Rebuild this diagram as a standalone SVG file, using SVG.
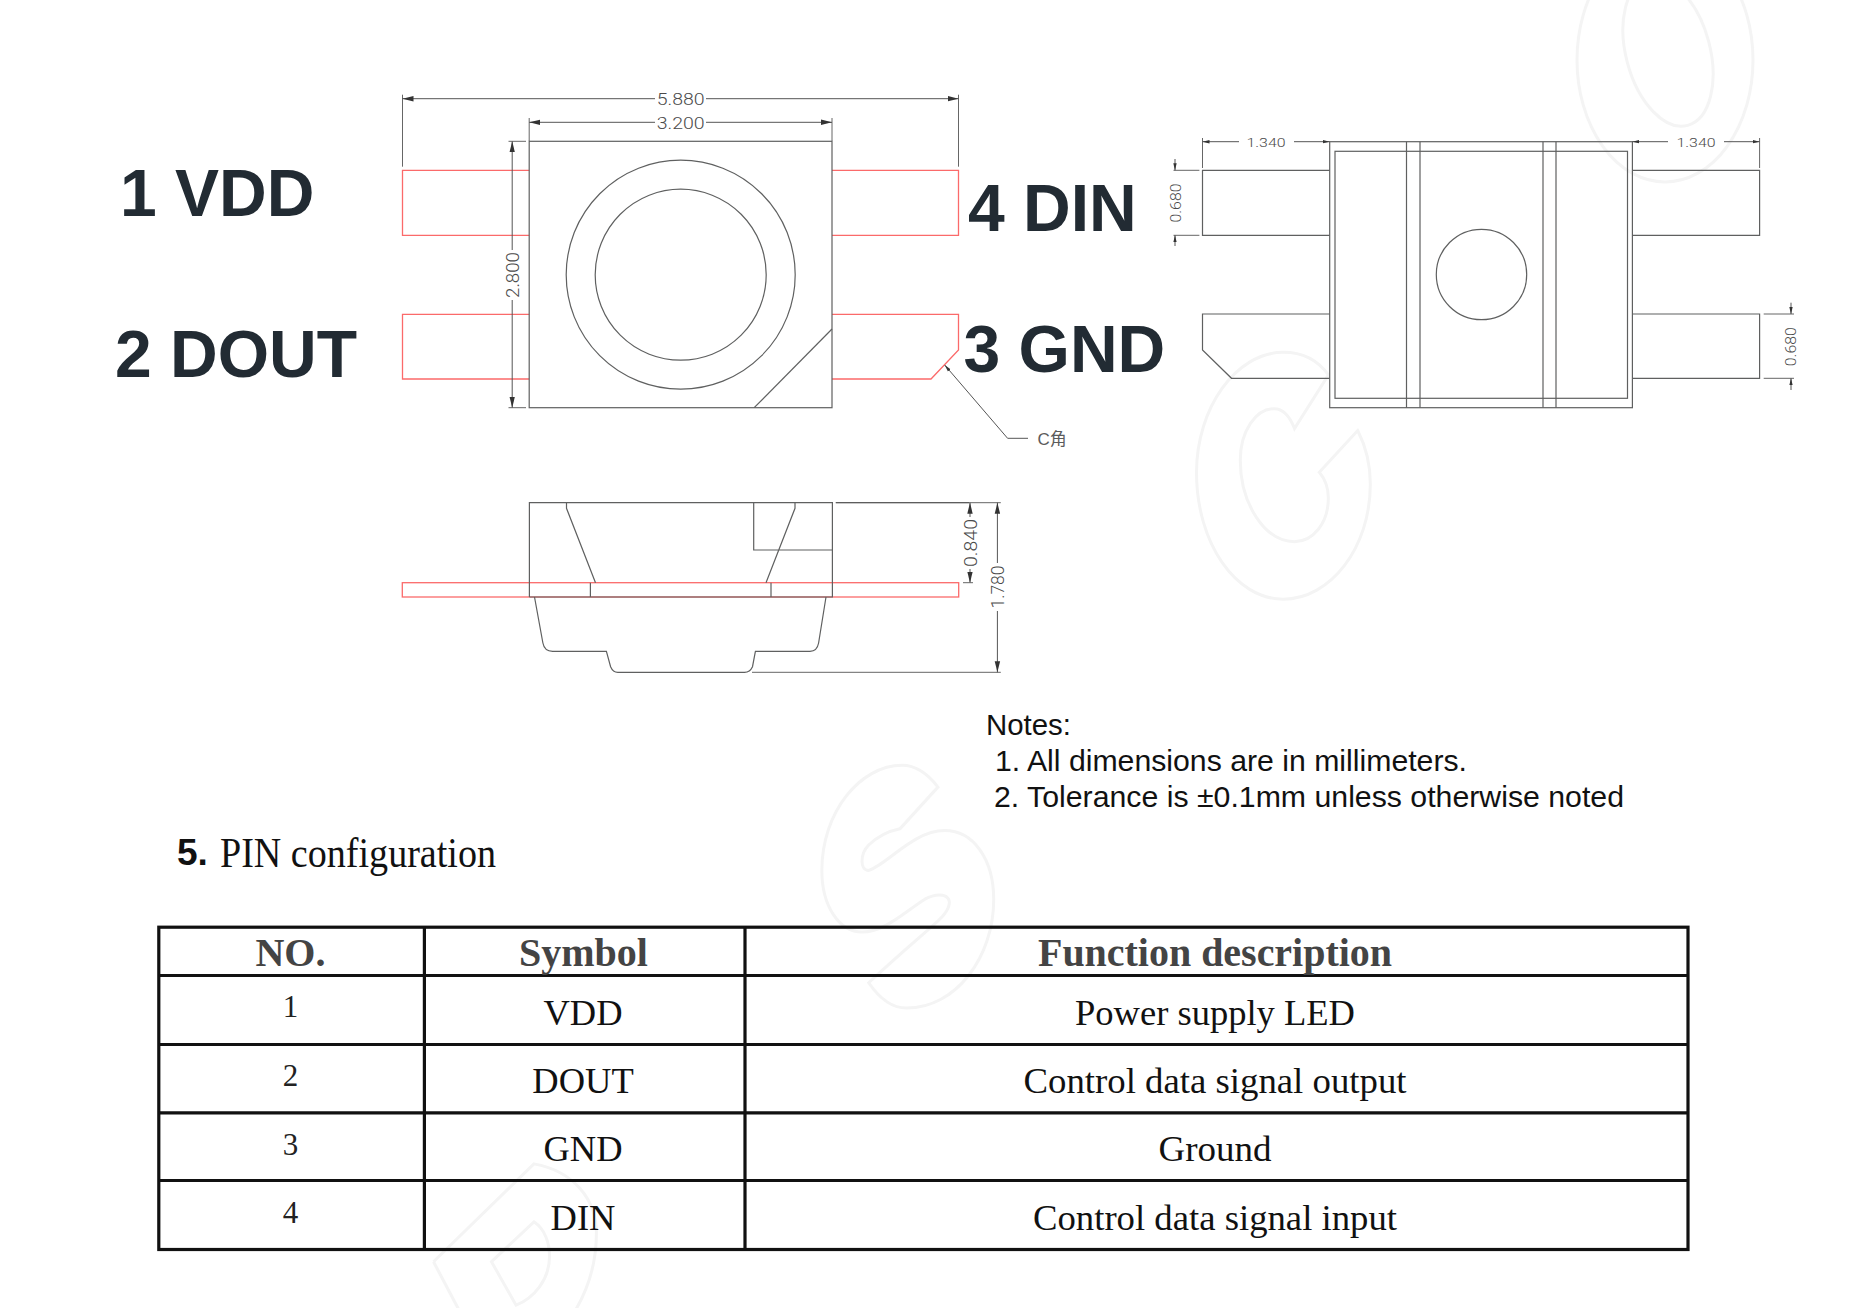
<svg xmlns="http://www.w3.org/2000/svg" width="1858" height="1308" viewBox="0 0 1858 1308">
<style>
.wm{fill:none;stroke:#f4f4f4;stroke-width:3;vector-effect:non-scaling-stroke}
.o{fill:none;stroke:#5f6060;stroke-width:1.2}
.t{fill:none;stroke:#555;stroke-width:1}
.r{fill:none;stroke:#fb6a6a;stroke-width:1.3}
.d{fill:none;stroke:#666;stroke-width:1}
.a{marker-start:url(#ah)}
.s{marker-start:url(#as)}
.dt{font-family:Roboto,"Liberation Sans",Arial,sans-serif;font-weight:300;fill:#4a4a4a;text-anchor:middle}
.big{font-family:"Liberation Sans",Arial,sans-serif;font-weight:700;font-size:66px;fill:#222b33}
.note{font-family:"Liberation Sans",Arial,sans-serif;font-size:30px;fill:#111}
.h{font-family:"Liberation Serif","Times New Roman",serif;font-weight:700;font-size:40px;fill:#444;text-anchor:middle}
.c{font-family:"Liberation Serif","Times New Roman",serif;font-size:36.5px;fill:#111;text-anchor:middle}
.n{font-family:"Liberation Serif","Times New Roman",serif;font-size:31px;fill:#222;text-anchor:middle}
.g{fill:none;stroke:#111;stroke-width:3.2}
</style>
<defs>
<marker id="ah" markerUnits="userSpaceOnUse" markerWidth="12" markerHeight="8" refX="11" refY="3.5" orient="auto-start-reverse"><path d="M0 0.8L11 3.5L0 6.2Z" fill="#333"/></marker>
<marker id="as" markerUnits="userSpaceOnUse" markerWidth="8" markerHeight="6" refX="7" refY="2.5" orient="auto-start-reverse"><path d="M0 0.8L7 2.5L0 4.2Z" fill="#333"/></marker>
</defs>
<rect width="1858" height="1308" fill="#fff"/>
<g id="watermark">
<ellipse class="wm" cx="1665" cy="60" rx="88" ry="122"/>
<ellipse class="wm" cx="1668" cy="52" rx="42" ry="76" transform="rotate(-15 1668 52)"/>
<g transform="translate(1150 0) scale(0.4515 0.3968)">
<path class="wm" d="M395 945C370 905 335 888 295 888C190 888 103 1030 103 1190C103 1370 190 1510 295 1510C400 1510 488 1380 488 1220C488 1170 478 1125 460 1085L375 1190C390 1210 395 1235 395 1255C395 1320 360 1365 320 1365C255 1365 200 1270 200 1160C200 1085 235 1030 275 1030C295 1030 310 1050 320 1080Z"/>
</g>
<g transform="translate(400 740) scale(0.4464 0.3623)">
<path class="wm" d="M1205 130C1180 90 1155 70 1125 70C1030 70 945 200 945 360C945 460 985 530 1035 530C1085 530 1130 475 1175 440C1205 420 1235 425 1230 455C1225 490 1190 510 1050 670C1075 715 1105 740 1135 740C1245 740 1330 600 1330 440C1330 330 1285 250 1220 250C1150 250 1090 345 1050 360C1030 360 1030 315 1050 290C1075 260 1100 250 1120 245Z"/>
<path class="wm" d="M75 1440L300 1170C390 1190 440 1270 440 1360C440 1450 420 1520 390 1580"/>
<path class="wm" d="M75 1440L135 1580"/>
<path class="wm" d="M205 1440L300 1330C325 1350 335 1390 335 1425C335 1490 300 1540 260 1560Z"/>
</g>
</g>
<g id="top-view">
<path class="r" d="M529.2 170.3H402.5V235.3H529.2M529.2 314.3H402.5V379H529.2M832 170.3H958.5V235.3H832M832 314.3H958.5V350L931 379H832"/>
<rect class="o" x="529.2" y="141.3" width="302.8" height="266.4"/>
<circle class="o" cx="680.7" cy="274.7" r="114.5"/>
<circle class="o" cx="680.7" cy="274.7" r="85.5"/>
<path class="o" d="M832 329L754.2 407.7"/>
</g>
<g id="right-view">
<rect class="o" x="1329.7" y="141.7" width="302.7" height="266"/>
<rect class="o" x="1335" y="151.3" width="292.5" height="247"/>
<path class="o" d="M1406.5 141.7V407.7M1420 141.7V407.7M1543 141.7V407.7M1556 141.7V407.7"/>
<circle class="o" cx="1481.5" cy="274.5" r="45.2"/>
<path class="o" d="M1329.7 170.3H1202.5V235.3H1329.7M1329.7 314H1202.5V350L1231.5 378.3H1329.7M1632.4 170.3H1759.6V235.3H1632.4M1632.4 314H1759.6V378.3H1632.4"/>
</g>
<g id="side-view">
<rect class="r" x="402.3" y="582.7" width="556.4" height="14.3"/>
<path class="o" d="M529.4 597V502.7H832.4V597H529.4M566.5 502.7V508.3L595.5 582.7M795 502.7V508.3L766 582.7M590.4 582.7V597M771 582.7V597M753.7 502.7V550H832.4"/>
<path class="o" d="M534.5 597L542.9 643C544 649 548 651.3 552.6 651.3H606.4L610.6 666.7C612 670 614 672.3 617.8 672.3H744.5C749 672.3 751 670 752.5 666.7L755.4 651.3H810C815 651.3 817.5 649 818.6 643L826 597"/>
</g>
<g id="connectors">
<path class="d" d="M402.5 94.7V166.7M958.5 94.7V166.7M529.2 118V141M832 118V141M508.5 141.3H526M508.5 407.7H526"/>
<path class="t a" d="M402.5 98.7H655"/>
<path class="t a" d="M958.5 98.7H706"/>
<path class="t a" d="M529.2 122.3H655"/>
<path class="t a" d="M832 122.3H706"/>
<path class="t a" d="M512.2 141.3V250"/>
<path class="t a" d="M512.2 407.7V300"/>
<path class="d" d="M1202.5 138V168M1759.6 138V168M1173.5 170.3H1199.4M1173.5 235.3H1199.4M1763.7 314H1794M1763.7 378.3H1794"/>
<path class="t s" d="M1202.5 141.7H1239"/>
<path class="t s" d="M1329.7 141.7H1294"/>
<path class="t s" d="M1632.4 141.7H1668"/>
<path class="t s" d="M1759.6 141.7H1724"/>
<path class="t" d="M1175 159V170.3" marker-end="url(#as)"/>
<path class="t" d="M1175 246V235.3" marker-end="url(#as)"/>
<path class="t" d="M1791 302.7V314" marker-end="url(#as)"/>
<path class="t" d="M1791 390V378.3" marker-end="url(#as)"/>
<path class="d" d="M835.8 502.7H1000.8M752 672.3H1000.8"/>
<path class="t" stroke-width="1.6" d="M835.8 502.7H969"/>
<path class="t a" d="M970 502.7V517"/>
<path class="t a" d="M970 582.7V569"/>
<path class="d" d="M963 582.7H973"/>
<path class="t a" d="M997.4 502.7V563"/>
<path class="t a" d="M997.4 672.3V611"/>
<path class="t" d="M1028 438.3H1007.6L944.7 365" marker-end="url(#as)"/>
</g>
<g id="dimension-labels">
<text class="dt" x="680.7" y="105" font-size="17" textLength="48" lengthAdjust="spacingAndGlyphs">5.880</text>
<text class="dt" x="680.7" y="128.5" font-size="17" textLength="48" lengthAdjust="spacingAndGlyphs">3.200</text>
<text class="dt" font-size="19" textLength="46" lengthAdjust="spacingAndGlyphs" transform="translate(519 275) rotate(-90)">2.800</text>
<text class="dt" x="1266" y="146.5" font-size="13.5" textLength="39" lengthAdjust="spacingAndGlyphs">1.340</text>
<text class="dt" x="1696" y="146.5" font-size="13.5" textLength="39" lengthAdjust="spacingAndGlyphs">1.340</text>
<text class="dt" font-size="14.5" textLength="39" lengthAdjust="spacingAndGlyphs" transform="translate(1181 203) rotate(-90)">0.680</text>
<text class="dt" font-size="14.5" textLength="39" lengthAdjust="spacingAndGlyphs" transform="translate(1796 346.7) rotate(-90)">0.680</text>
<text class="dt" font-size="18" textLength="48" lengthAdjust="spacingAndGlyphs" transform="translate(977 543) rotate(-90)">0.840</text>
<text class="dt" font-size="19" textLength="43" lengthAdjust="spacingAndGlyphs" transform="translate(1004 587) rotate(-90)">1.780</text>
<text x="1037.5" y="444.5" font-size="17" fill="#5c5c5c" font-family="'Liberation Sans','Noto Sans CJK SC',sans-serif">C角</text>
</g>
<g id="pin-labels">
<text class="big" x="120" y="215.7">1 VDD</text>
<text class="big" x="115" y="377">2 DOUT</text>
<text class="big" x="968" y="230.7">4 DIN</text>
<text class="big" x="963.5" y="371.7">3 GND</text>
</g>
<g id="notes">
<text class="note" x="986" y="735" textLength="85" lengthAdjust="spacingAndGlyphs">Notes:</text>
<text class="note" x="995" y="771" textLength="472" lengthAdjust="spacingAndGlyphs">1. All dimensions are in millimeters.</text>
<text class="note" x="994" y="807" textLength="630" lengthAdjust="spacingAndGlyphs">2. Tolerance is ±0.1mm unless otherwise noted</text>
</g>
<g id="heading">
<text x="177" y="864.8" font-family="'Liberation Sans',Arial,sans-serif" font-weight="700" font-size="37" fill="#111">5.</text>
<text x="220" y="866.5" font-family="'Liberation Serif','Times New Roman',serif" font-size="43" fill="#111" textLength="276" lengthAdjust="spacingAndGlyphs">PIN configuration</text>
</g>
<g id="pin-table">
<rect class="g" x="158.8" y="927.2" width="1529.2" height="322.3"/>
<path class="g" d="M158.8 975.5H1688M158.8 1044.5H1688M158.8 1112.8H1688M158.8 1180.5H1688M424.4 927.2V1249.5M745 927.2V1249.5"/>
<text class="h" x="290.4" y="966">NO.</text>
<text class="h" x="583.5" y="966" textLength="129" lengthAdjust="spacingAndGlyphs">Symbol</text>
<text class="h" x="1215" y="966" textLength="354" lengthAdjust="spacingAndGlyphs">Function description</text>
<text class="n" x="290.4" y="1017">1</text>
<text class="c" x="583" y="1024.5">VDD</text>
<text class="c" x="1215" y="1024.5" textLength="280" lengthAdjust="spacingAndGlyphs">Power supply LED</text>
<text class="n" x="290.4" y="1086">2</text>
<text class="c" x="583" y="1092.7">DOUT</text>
<text class="c" x="1215" y="1092.7" textLength="383" lengthAdjust="spacingAndGlyphs">Control data signal output</text>
<text class="n" x="290.4" y="1155.3">3</text>
<text class="c" x="583" y="1161">GND</text>
<text class="c" x="1215" y="1160.5" textLength="113" lengthAdjust="spacingAndGlyphs">Ground</text>
<text class="n" x="290.4" y="1223">4</text>
<text class="c" x="583" y="1229.8">DIN</text>
<text class="c" x="1215" y="1229.8" textLength="364" lengthAdjust="spacingAndGlyphs">Control data signal input</text>
</g>
</svg>
